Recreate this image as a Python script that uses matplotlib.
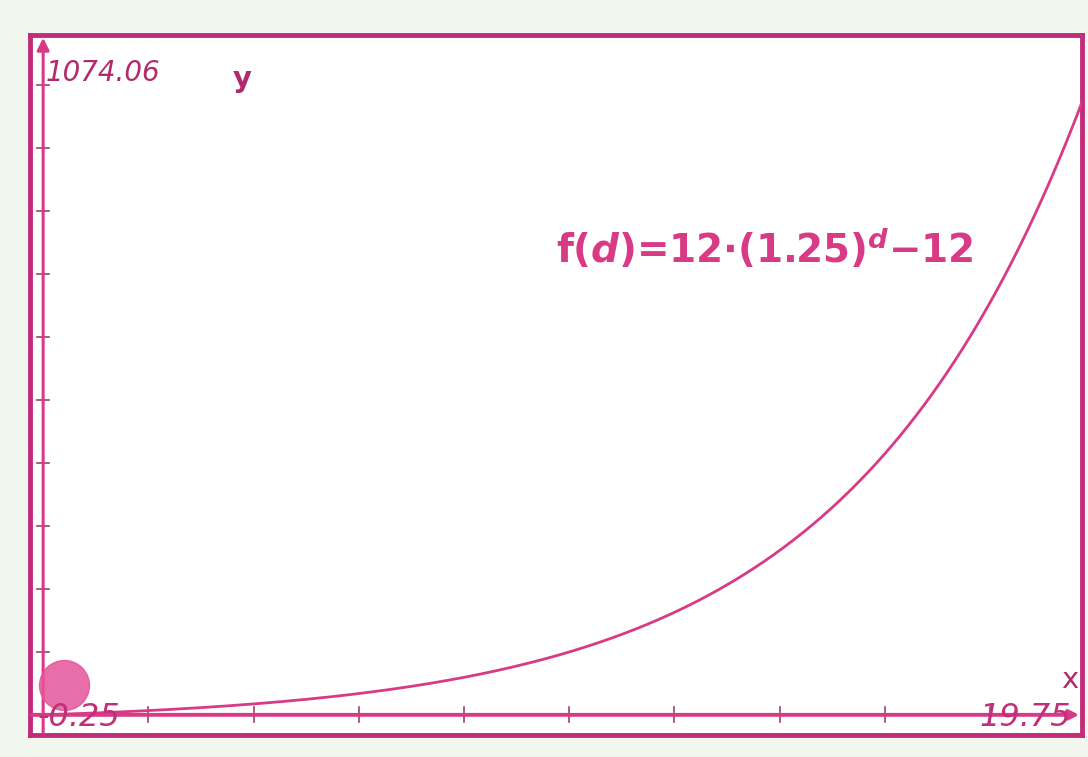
import numpy as np
import matplotlib
matplotlib.use("Agg")
import matplotlib.pyplot as plt

plt.rcParams["mathtext.fontset"] = "custom"
plt.rcParams["mathtext.rm"] = "DejaVu Sans:bold"
plt.rcParams["mathtext.bf"] = "DejaVu Sans:bold"
plt.rcParams["mathtext.it"] = "DejaVu Sans:italic:bold"

# window of the graph
x_min, x_max = -0.25, 19.75
y_top = 1074.06
y_bottom = -32.0

# f(d) = a * b^d - c
a, b, c = 12, 1.25, 12

# tick spacing on the axes
x_step = 2
y_step = 100

# the traced point near the origin
point_x = [0.4]
point_y = [48]

pink = "#d93a86"
dark_pink = "#c22c78"
label_pink = "#b02a6c"

fig = plt.figure(figsize=(10.88, 7.57), dpi=100, facecolor="#f1f6ee")
ax = fig.add_axes([30 / 1088, 22 / 757, 1052 / 1088, 700 / 757])
ax.set_facecolor("white")

d = np.linspace(x_min, x_max, 400)
f = a * b ** d - c
ax.plot(d, f, color=pink, lw=2.0, zorder=3)

# axes through the origin with arrows
ax.annotate("", xy=(0, y_top + 5), xytext=(0, y_bottom),
            arrowprops=dict(arrowstyle="-|>", color=pink, lw=2.2, mutation_scale=18))
ax.annotate("", xy=(x_max, 0), xytext=(x_min, 0),
            arrowprops=dict(arrowstyle="-|>", color=pink, lw=2.8, mutation_scale=14))

# tick marks
for t in np.arange(x_step, x_max, x_step):
    ax.plot([t, t], [-12, 12], color="#a04070", lw=1.2, zorder=2)
for t in np.arange(y_step, y_top, y_step):
    ax.plot([-0.12, 0.12], [t, t], color="#a04070", lw=1.2, zorder=2)

ax.plot(point_x, point_y, "o", ms=36, color="#e4559a", alpha=0.85, zorder=4)

ax.text(0.05, y_top - 55, f"{y_top:.2f}", color=label_pink, fontsize=20,
        style="italic", ha="left", va="center")
ax.text(3.6, y_top - 65, "y", color=label_pink, fontsize=21,
        fontweight="bold", ha="left", va="center")
ax.text(19.35, 55, "x", color=label_pink, fontsize=21, ha="left", va="center")
ax.text(-0.1, -4, f"{x_min}", color="#c03078", fontsize=23, style="italic",
        ha="left", va="center", zorder=5)
ax.text(x_max - 0.2, -4, f"{x_max}", color="#c03078", fontsize=23,
        style="italic", ha="right", va="center")

ax.text(9.75, 740, r"f$(\mathit{d})$=12$\cdot$(1.25)$^{\mathit{d}}$$-$12",
        color=pink, fontsize=28, fontweight="bold", ha="left", va="center")

ax.set_xlim(x_min, x_max)
ax.set_ylim(y_bottom, y_top + 5)
ax.set_xticks([])
ax.set_yticks([])
for s in ax.spines.values():
    s.set_color(dark_pink)
    s.set_linewidth(3.5)

fig.savefig("out.png", dpi=100, facecolor=fig.get_facecolor())
